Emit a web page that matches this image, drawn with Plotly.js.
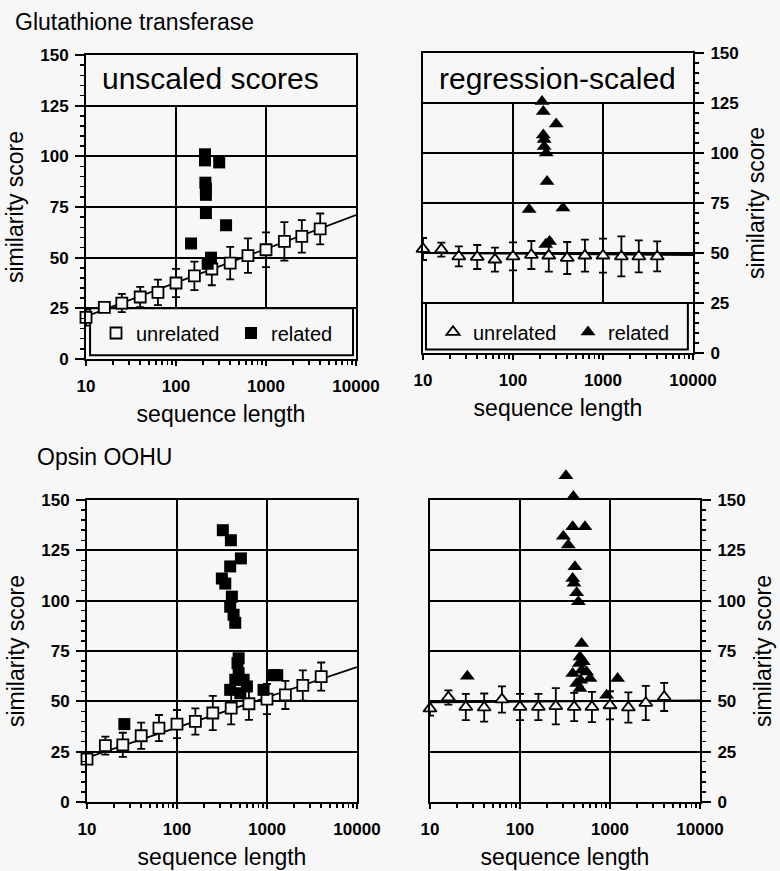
<!DOCTYPE html>
<html>
<head>
<meta charset="utf-8">
<script src="https://cdn.plot.ly/plotly-3.0.1.min.js"></script>
<style>html,body{margin:0;padding:0;background:#f7f7f7;}#chart{width:780px;height:871px;}</style>
</head>
<body>
<div id="chart"></div>
<script>
// ---------- data ----------
const lengthBins = [10, 16, 25, 40, 63, 100, 160, 250, 400, 630, 1000, 1600, 2500, 4000];

// Glutathione transferase, unscaled
const gstUnscaledMean = [20.5, 25.5, 27.6, 30.6, 32.9, 37.5, 41, 44.4, 47.3, 51, 53.9, 58, 60.5, 64.2];
const gstUnscaledSd   = [4, 2, 4.5, 5, 6.3, 7, 7, 8, 8, 8.5, 8.6, 9.5, 8, 7.6];
const gstRelatedLen   = [147, 210, 210, 212, 215, 215, 215, 302, 360, 245, 225];
const gstRelatedScore = [57, 101, 98, 87, 84, 81, 72, 97, 66, 50, 47];
const gstFitLen   = [10, 10000];
const gstFitScore = [21, 71];

// Glutathione transferase, regression-scaled
const gstScaledMean = [52, 51.7, 48.3, 48, 46.7, 48.3, 49, 48.7, 47.5, 48.7, 48.7, 48.3, 48.3, 48.3];
const gstScaledSd   = [5.5, 3.5, 5, 6, 6, 7, 7, 8, 8, 8, 8.5, 10, 8, 7.5];
const gstScaledRelLen   = [210, 217, 302, 217, 222, 222, 234, 239, 151, 359, 255, 231];
const gstScaledRelScore = [125.8, 120.8, 114.5, 109, 106.7, 103.3, 100, 85.8, 71.7, 72.5, 55.8, 54.2];
const gstScaledFitLen   = [10, 10000];
const gstScaledFitScore = [50, 49];

// Opsin OOHU, unscaled
const opsUnscaledMean = [21.3, 28, 28.4, 32.9, 36.7, 38.7, 40, 44.2, 46.6, 48.8, 51.1, 53.2, 57.9, 62.3];
const opsUnscaledSd   = [2, 4.5, 6, 6.5, 6.5, 7, 6.5, 8.5, 8, 8, 7.5, 7, 7.5, 7];
const opsRelatedLen   = [26, 323, 397, 513, 390, 315, 344, 407, 390, 425, 444, 484, 470, 484, 444, 550, 598, 390, 505, 915, 1185, 1300];
const opsRelatedScore = [38.7, 135, 130, 121, 117, 111, 108.5, 102, 97, 93, 89, 71.4, 69, 64, 60.7, 60.7, 57.4, 55.7, 54, 55.7, 63, 63];
const opsFitLen   = [10, 10000];
const opsFitScore = [22, 67];

// Opsin OOHU, regression-scaled
const opsScaledMean = [46.4, 51.9, 47.2, 46.9, 50.9, 47.2, 47.2, 47.6, 47.2, 47.2, 48, 46.9, 49.2, 52.2];
const opsScaledSd   = [3.5, 3.5, 6.5, 7, 6.5, 6.5, 6.5, 9, 7, 7.5, 7, 7.5, 8.5, 7];
const opsScaledRelLen   = [26, 324, 392, 385, 527, 303, 344, 408, 385, 398, 426, 445, 484, 464, 456, 506, 484, 550, 600, 385, 426, 464, 472, 918, 1216];
const opsScaledRelScore = [62.5, 162, 151.7, 136.7, 136.7, 132, 127.6, 116.9, 111, 108.6, 103.9, 99.5, 78.7, 72, 68.8, 69.6, 65.5, 64.6, 61.3, 63.8, 58.8, 56.4, 60.5, 53, 61.3];
const opsScaledFitLen   = [10, 10000];
const opsScaledFitScore = [49.5, 50.5];

const legendUnrelated = 'unrelated';
const legendRelated = 'related';
const panelLabels = ['unscaled scores', 'regression-scaled'];
const figureTitles = ['Glutathione transferase', 'Opsin OOHU'];
const xTitle = 'sequence length';
const yTitle = 'similarity score';

// ---------- styling ----------
const FONT = '"Liberation Sans", Arial, Helvetica, sans-serif';
const BG = '#f7f7f7';
const W = 780, H = 871;
const px = (a, b) => [a / W, b / W];
const py = (top, bottom) => [(H - bottom) / H, (H - top) / H];

function errY(arr) {
  return {type: 'data', array: arr, visible: true, color: 'black', thickness: 1.8, width: 4};
}
function fitTrace(x, y, xa, ya) {
  return {x, y, xaxis: xa, yaxis: ya, type: 'scatter', mode: 'lines',
    line: {color: 'black', width: 1.8}, showlegend: false, hoverinfo: 'skip', cliponaxis: false};
}
function openTrace(x, y, sd, xa, ya, symbol, legend, show) {
  return {x, y, xaxis: xa, yaxis: ya, type: 'scatter', mode: 'markers', name: legendUnrelated,
    error_y: errY(sd), cliponaxis: false, showlegend: show, legend,
    marker: {symbol, size: symbol === 'square' ? 11 : 11.5, color: BG, line: {color: 'black', width: 1.8}}};
}
function filledTrace(x, y, xa, ya, symbol, legend, show) {
  return {x, y, xaxis: xa, yaxis: ya, type: 'scatter', mode: 'markers', name: legendRelated,
    cliponaxis: false, showlegend: show, legend,
    marker: {symbol, size: symbol === 'square' ? 12 : 13, color: 'black', line: {color: 'black', width: 0}}};
}

const traces = [
  fitTrace(gstFitLen, gstFitScore, 'x', 'y'),
  openTrace(lengthBins, gstUnscaledMean, gstUnscaledSd, 'x', 'y', 'square', 'legend', true),
  filledTrace(gstRelatedLen, gstRelatedScore, 'x', 'y', 'square', 'legend', true),

  fitTrace(gstScaledFitLen, gstScaledFitScore, 'x2', 'y2'),
  openTrace(lengthBins, gstScaledMean, gstScaledSd, 'x2', 'y2', 'triangle-up', 'legend2', true),
  filledTrace(gstScaledRelLen, gstScaledRelScore, 'x2', 'y2', 'triangle-up', 'legend2', true),

  fitTrace(opsFitLen, opsFitScore, 'x3', 'y3'),
  openTrace(lengthBins, opsUnscaledMean, opsUnscaledSd, 'x3', 'y3', 'square', 'legend', false),
  filledTrace(opsRelatedLen, opsRelatedScore, 'x3', 'y3', 'square', 'legend', false),

  fitTrace(opsScaledFitLen, opsScaledFitScore, 'x4', 'y4'),
  openTrace(lengthBins, opsScaledMean, opsScaledSd, 'x4', 'y4', 'triangle-up', 'legend', false),
  // drawn on an invisible twin of panel 4 whose scale matches it but extends above 150,
  // so the two related scores above the frame stay visible as in the original
  filledTrace(opsScaledRelLen, opsScaledRelScore, 'x5', 'y5', 'triangle-up', 'legend', false)
];

const tickFont = {family: FONT, size: 17, color: 'black', weight: 'bold'};
const titleFont = {family: FONT, size: 23, color: 'black'};

function xAxis(domain, anchor, grid) {
  return {
    type: 'log', range: [1, 4], domain, anchor, dtick: 1, tick0: 0, tickformat: 'd',
    showline: true, mirror: true, linecolor: 'black', linewidth: 2,
    showgrid: grid, gridcolor: 'black', gridwidth: 2, zeroline: false,
    ticks: 'outside', ticklen: 5, tickwidth: 2, tickcolor: 'black',
    minor: {ticks: 'outside', ticklen: 4, tickwidth: 1.5, tickcolor: 'black', dtick: 'D1', showgrid: false},
    tickfont: tickFont, ticklabelstandoff: 6,
    title: {text: xTitle, font: titleFont, standoff: 10},
    fixedrange: true
  };
}
function yAxis(domain, anchor, side) {
  return {
    range: [0, 150], domain, anchor, side, dtick: 25, tick0: 0,
    showline: true, mirror: true, linecolor: 'black', linewidth: 2,
    showgrid: true, gridcolor: 'black', gridwidth: 2, zeroline: false,
    ticks: 'outside', ticklen: 9, tickwidth: 2, tickcolor: 'black',
    minor: {ticks: 'outside', ticklen: 4, tickwidth: 1.5, tickcolor: 'black', dtick: 5, showgrid: false},
    tickfont: tickFont, ticklabelstandoff: 3,
    title: {text: yTitle, font: titleFont, standoff: 10},
    fixedrange: true
  };
}

// top panels: decade gridlines only between the label box (125-150) and the legend box (0-25)
function topPanelShapes(xr, yr, boxX0, boxX1) {
  const decades = [100, 1000];
  const lines = decades.map(d => ({type: 'line', xref: xr + ' domain', yref: yr,
    x0: (Math.log10(d) - 1) / 3, x1: (Math.log10(d) - 1) / 3,
    y0: 25, y1: 125, line: {color: 'black', width: 2}, layer: 'below'}));
  lines.push({type: 'rect', xref: xr + ' domain', yref: yr, x0: boxX0, x1: boxX1, y0: 1.8, y1: 25,
    fillcolor: 'rgba(0,0,0,0)', line: {color: 'black', width: 2}, layer: 'below'});
  return lines;
}

// twin axes for panel 4: same pixel scale, extended upward by 50 px
const p4Top = 500, p4Bottom = 802, twinTop = 450;
const twinMax = 150 * (p4Bottom - twinTop) / (p4Bottom - p4Top);

const layout = {
  width: W, height: H,
  margin: {l: 0, r: 0, t: 0, b: 0},
  paper_bgcolor: BG, plot_bgcolor: 'rgba(0,0,0,0)',
  font: {family: FONT, color: 'black'},
  xaxis: xAxis(px(86, 356), 'y', false),
  yaxis: yAxis(py(55, 359), 'x', 'left'),
  xaxis2: xAxis(px(423, 693), 'y2', false),
  yaxis2: yAxis(py(53, 353), 'x2', 'right'),
  xaxis3: xAxis(px(87, 357), 'y3', true),
  yaxis3: yAxis(py(500, 802), 'x3', 'left'),
  xaxis4: xAxis(px(430, 700), 'y4', true),
  yaxis4: yAxis(py(p4Top, p4Bottom), 'x4', 'right'),
  xaxis5: {type: 'log', range: [1, 4], domain: px(430, 700), anchor: 'y5', visible: false, fixedrange: true},
  yaxis5: {range: [0, twinMax], domain: py(twinTop, p4Bottom), anchor: 'x5', visible: false, fixedrange: true},
  legend: {x: 96 / W, y: (H - 333) / H, xanchor: 'left', yanchor: 'middle', orientation: 'h',
    bgcolor: 'rgba(0,0,0,0)', borderwidth: 0, font: {family: FONT, size: 20, color: 'black'},
    entrywidth: 90, entrywidthmode: 'pixels', itemclick: false, itemdoubleclick: false},
  legend2: {x: 433 / W, y: (H - 332) / H, xanchor: 'left', yanchor: 'middle', orientation: 'h',
    bgcolor: 'rgba(0,0,0,0)', borderwidth: 0, font: {family: FONT, size: 20, color: 'black'},
    entrywidth: 90, entrywidthmode: 'pixels', itemclick: false, itemdoubleclick: false},
  shapes: [].concat(topPanelShapes('x', 'y', 0.015, 0.989), topPanelShapes('x2', 'y2', 0.011, 0.981)),
  annotations: [
    {text: figureTitles[0], xref: 'paper', yref: 'paper', x: 13 / W, y: (H - 22) / H, xanchor: 'left', yanchor: 'middle', showarrow: false, font: {family: FONT, size: 23, color: 'black'}},
    {text: figureTitles[1], xref: 'paper', yref: 'paper', x: 35 / W, y: (H - 457) / H, xanchor: 'left', yanchor: 'middle', showarrow: false, font: {family: FONT, size: 23, color: 'black'}},
    {text: panelLabels[0], xref: 'x domain', yref: 'y', x: 0.052, y: 138.5, xanchor: 'left', yanchor: 'middle', showarrow: false, font: {family: FONT, size: 30, color: 'black'}},
    {text: panelLabels[1], xref: 'x2 domain', yref: 'y2', x: 0.052, y: 137.5, xanchor: 'left', yanchor: 'middle', showarrow: false, font: {family: FONT, size: 30, color: 'black'}}
  ]
};

Plotly.newPlot('chart', traces, layout, {staticPlot: true, displayModeBar: false});
</script>
</body>
</html>
